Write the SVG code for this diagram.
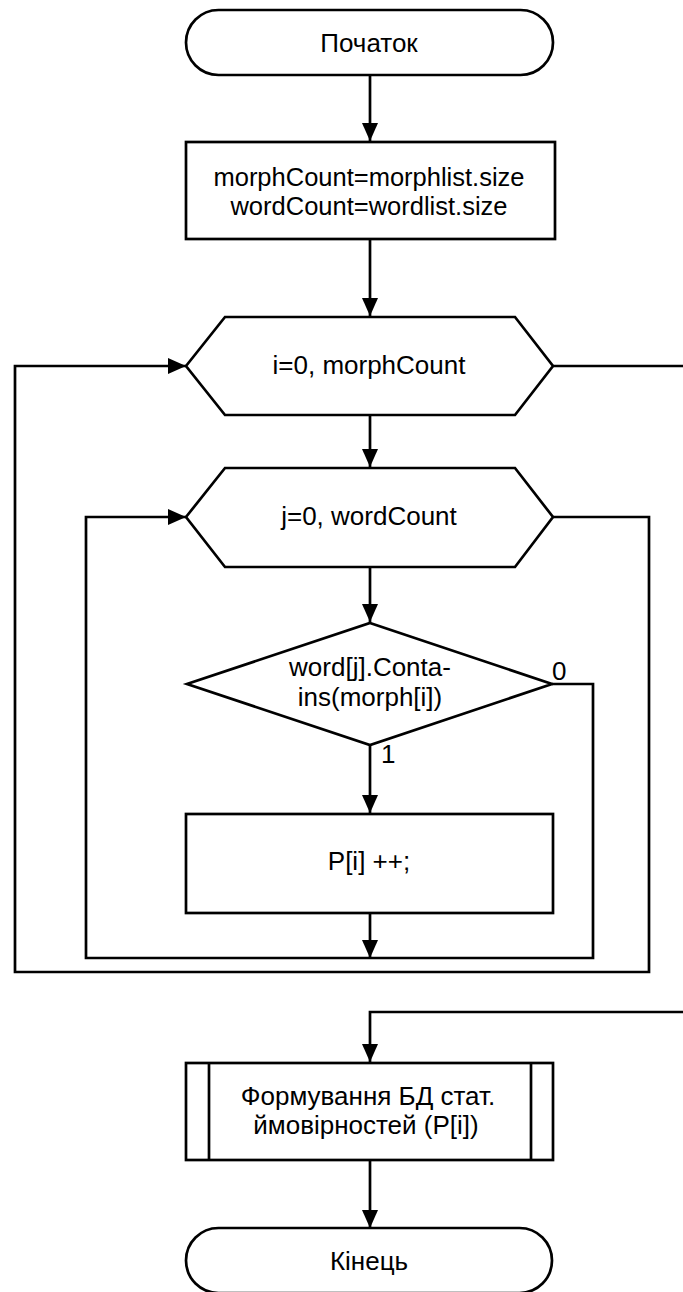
<svg xmlns="http://www.w3.org/2000/svg" width="683" height="1292" viewBox="0 0 683 1292">
<style>
.s{fill:#fff;stroke:#000;stroke-width:2.7;stroke-linejoin:miter}
.c{fill:none;stroke:#000;stroke-width:2.7;stroke-linejoin:miter}
.ca{fill:none;stroke:#000;stroke-width:2.7;stroke-linejoin:miter;marker-end:url(#ah)}
.t{font-family:"Liberation Sans",Arial,sans-serif;font-size:26px;fill:#000;text-anchor:middle}
.l{font-family:"Liberation Sans",Arial,sans-serif;font-size:26px;fill:#000}
</style>
<defs>
<marker id="ah" markerUnits="userSpaceOnUse" markerWidth="18" markerHeight="16" refX="18" refY="8" orient="auto">
<path d="M0,0 L18,8 L0,16 Z" fill="#000"/>
</marker>
</defs>
<rect width="683" height="1292" fill="#fff"/>
<g id="connectors">
<path class="ca" d="M370,75 V141"/>
<path class="ca" d="M370,239 V316"/>
<path class="ca" d="M370,415 V467"/>
<path class="ca" d="M370,567 V622"/>
<path class="ca" d="M370,745 V813"/>
<path class="ca" d="M370,913 V958"/>
<path class="ca" d="M552,684 H593 V958 H86 V517 H186"/>
<path class="ca" d="M553,517 H649 V972 H15 V366 H186"/>
<path class="ca" d="M553,366 H695 V1012 H370 V1062"/>
<path class="ca" d="M370,1160 V1228"/>
</g>
<g id="start">
<rect class="s" x="186" y="10" width="367" height="65" rx="32.5" ry="32.5"/>
<text class="t" x="369" y="52">Початок</text>
</g>
<g id="init">
<rect class="s" x="186" y="142" width="369" height="97"/>
<text class="t" x="369" y="186" style="font-size:25.5px">morphCount=morphlist.size</text>
<text class="t" x="369" y="215" style="font-size:25.5px">wordCount=wordlist.size</text>
</g>
<g id="loop-i">
<polygon class="s" points="186,366 225,317 515,317 553,366 515,415 225,415"/>
<text class="t" x="369" y="374">i=0, morphCount</text>
</g>
<g id="loop-j">
<polygon class="s" points="186,517 225,468 515,468 553,517 515,567 225,567"/>
<text class="t" x="369" y="525">j=0, wordCount</text>
</g>
<g id="decision">
<polygon class="s" points="370,623 552,684 370,745 187,684"/>
<text class="t" x="370" y="676">word[j].Conta-</text>
<text class="t" x="370" y="706">ins(morph[i])</text>
<text class="l" x="552" y="680">0</text>
<text class="l" x="381" y="763">1</text>
</g>
<g id="increment">
<rect class="s" x="186" y="814" width="367" height="99"/>
<text class="t" x="369" y="870">P[i] ++;</text>
</g>
<g id="subprocess">
<rect class="s" x="186" y="1063" width="367" height="97"/>
<line class="c" x1="209" y1="1063" x2="209" y2="1160"/>
<line class="c" x1="531" y1="1063" x2="531" y2="1160"/>
<text class="t" x="368" y="1105">Формування БД стат.</text>
<text class="t" x="366" y="1134">ймовірностей (P[i])</text>
</g>
<g id="end">
<rect class="s" x="186" y="1228" width="366" height="65" rx="32.5" ry="32.5"/>
<text class="t" x="369" y="1270">Кінець</text>
</g>
</svg>
